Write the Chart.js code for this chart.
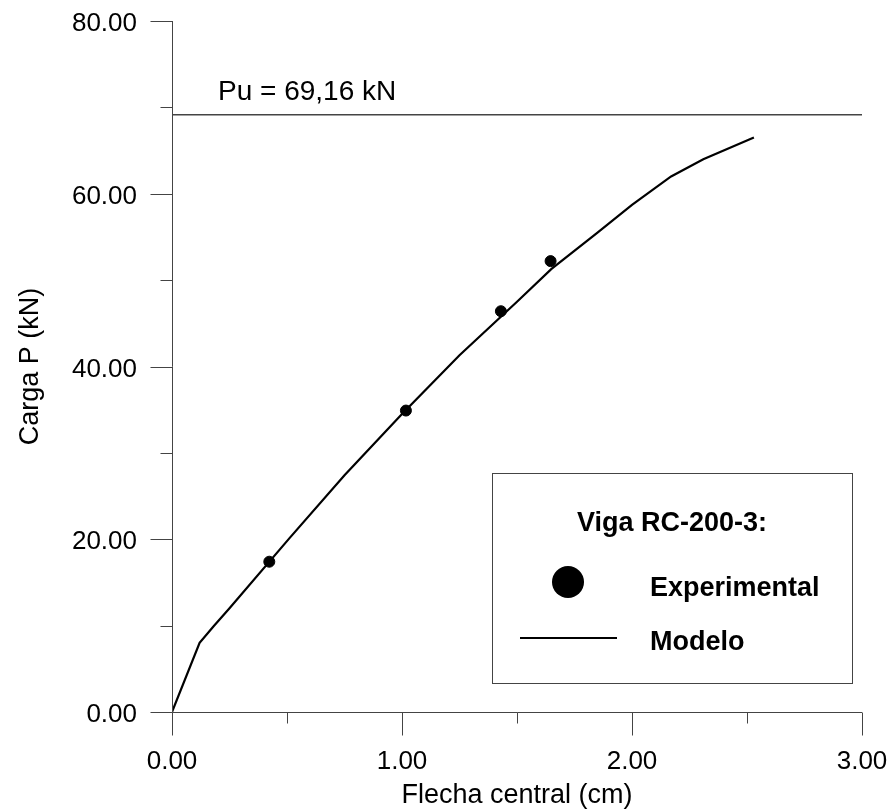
<!DOCTYPE html>
<html>
<head>
<meta charset="utf-8">
<script src="https://cdn.jsdelivr.net/npm/chart.js@4.4.1/dist/chart.umd.min.js"></script>
<style>
  html, body { margin: 0; padding: 0; background: #fff; }
  #wrap { width: 895px; height: 812px; }
</style>
</head>
<body>
<div id="wrap"><canvas id="grafico"></canvas></div>
<script>
// Modelo numerico (linea continua)
const modeloX = [0, 0.12, 0.18, 0.25, 0.51, 0.75, 1.00, 1.25, 1.50, 1.65, 1.85, 2.00, 2.17, 2.31, 2.53];
const modeloY = [0, 8.0, 9.9, 12.0, 20.1, 27.4, 34.5, 41.3, 47.5, 51.3, 55.5, 58.7, 62.0, 64.0, 66.5];

// Ensayo experimental (puntos)
const expX = [0.423, 1.017, 1.43, 1.646];
const expY = [17.4, 34.9, 46.4, 52.2];

// Carga ultima
const cargaUltima = 69.16;
const puX = [0, 3];

// Ticks
const ticksX = [0, 1, 2, 3];
const menoresX = [0.5, 1.5, 2.5];
const ticksY = [0, 20, 40, 60, 80];
const menoresY = [10, 30, 50, 70];

const fuente = '"Liberation Sans", Arial, sans-serif';

const ejes = {
  id: 'ejes',
  afterDatasetsDraw(chart) {
    const ctx = chart.ctx;
    const sx = chart.scales.x, sy = chart.scales.y;
    const x0 = Math.round(sx.getPixelForValue(0)) + 0.5;
    const y0 = Math.round(sy.getPixelForValue(0)) + 0.5;
    ctx.save();
    ctx.strokeStyle = '#444';
    ctx.lineWidth = 1;
    ctx.beginPath();
    ctx.moveTo(x0, sy.getPixelForValue(80));
    ctx.lineTo(x0, y0);
    ctx.lineTo(sx.getPixelForValue(3), y0);
    ticksX.forEach(v => { const p = Math.round(sx.getPixelForValue(v)) + 0.5; ctx.moveTo(p, y0); ctx.lineTo(p, y0 + 23); });
    menoresX.forEach(v => { const p = Math.round(sx.getPixelForValue(v)) + 0.5; ctx.moveTo(p, y0); ctx.lineTo(p, y0 + 11); });
    ticksY.forEach(v => { const p = Math.round(sy.getPixelForValue(v)) + 0.5; ctx.moveTo(x0, p); ctx.lineTo(x0 - 22, p); });
    menoresY.forEach(v => { const p = Math.round(sy.getPixelForValue(v)) + 0.5; ctx.moveTo(x0, p); ctx.lineTo(x0 - 12, p); });
    ctx.stroke();

    // texto de la carga ultima
    ctx.fillStyle = '#000';
    ctx.font = '28px ' + fuente;
    ctx.textAlign = 'left';
    ctx.textBaseline = 'alphabetic';
    ctx.fillText('Pu = 69,16 kN', sx.getPixelForValue(0.2), sy.getPixelForValue(cargaUltima) - 15);

    // leyenda
    const a = chart.chartArea;
    const L = a.right - 370, T = a.bottom - 239;
    ctx.strokeStyle = '#444';
    ctx.lineWidth = 1;
    ctx.strokeRect(L + 0.5, T + 0.5, 360, 210);
    ctx.font = 'bold 27px ' + fuente;
    ctx.textAlign = 'center';
    ctx.fillText('Viga RC-200-3:', L + 180, T + 58);
    ctx.beginPath();
    ctx.arc(L + 76, T + 109, 16, 0, Math.PI * 2);
    ctx.fill();
    ctx.textAlign = 'left';
    ctx.fillText('Experimental', L + 158, T + 123);
    ctx.strokeStyle = '#000';
    ctx.lineWidth = 2;
    ctx.beginPath();
    ctx.moveTo(L + 28, T + 165);
    ctx.lineTo(L + 125, T + 165);
    ctx.stroke();
    ctx.fillText('Modelo', L + 158, T + 177);
    ctx.restore();
  }
};

function sinRelleno(s) {
  s.paddingTop = 0; s.paddingBottom = 0; s.paddingLeft = 0; s.paddingRight = 0;
}

new Chart(document.getElementById('grafico').getContext('2d'), {
  type: 'scatter',
  data: {
    datasets: [
      {
        label: 'Pu',
        data: puX.map(x => ({ x: x, y: cargaUltima })),
        showLine: true,
        borderColor: '#444',
        borderWidth: 1.5,
        pointRadius: 0
      },
      {
        label: 'Modelo',
        data: modeloX.map((x, i) => ({ x: x, y: modeloY[i] })),
        showLine: true,
        borderColor: '#000',
        borderWidth: 2.2,
        pointRadius: 0,
        tension: 0
      },
      {
        label: 'Experimental',
        data: expX.map((x, i) => ({ x: x, y: expY[i] })),
        showLine: false,
        backgroundColor: '#000',
        borderColor: '#000',
        pointRadius: 5.5
      }
    ]
  },
  options: {
    responsive: true,
    maintainAspectRatio: false,
    animation: false,
    layout: { padding: { left: 0, right: 33, top: 21, bottom: 0 } },
    plugins: { legend: { display: false }, tooltip: { enabled: false } },
    scales: {
      x: {
        type: 'linear', min: 0, max: 3,
        grid: { display: false, drawTicks: false },
        border: { display: false },
        ticks: {
          stepSize: 1, padding: 34, color: '#000', maxRotation: 0, autoSkip: false,
          font: { size: 26, family: fuente },
          callback: v => Number(v).toFixed(2)
        },
        title: {
          display: true, text: 'Flecha central (cm)', color: '#000',
          font: { size: 27, family: fuente }, padding: { top: 0, bottom: 0 }
        },
        afterFit: s => { s.height = 100; sinRelleno(s); }
      },
      y: {
        type: 'linear', min: 0, max: 80,
        grid: { display: false, drawTicks: false },
        border: { display: false },
        ticks: {
          stepSize: 20, padding: 35, labelOffset: 3, color: '#000', autoSkip: false,
          font: { size: 26, family: fuente },
          callback: v => Number(v).toFixed(2)
        },
        title: {
          display: true, text: 'Carga P (kN)', color: '#000',
          font: { size: 27, family: fuente }, padding: { top: 14, bottom: 0 }
        },
        afterFit: s => { s.width = 172; sinRelleno(s); }
      }
    }
  },
  plugins: [ejes]
});
</script>
</body>
</html>
